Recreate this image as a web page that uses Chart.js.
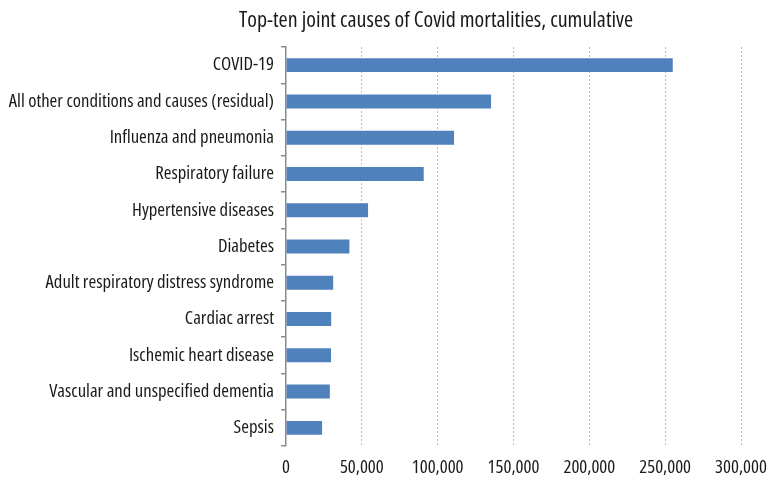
<!DOCTYPE html>
<html>
<head>
<meta charset="utf-8">
<script src="https://cdn.jsdelivr.net/npm/chart.js@4"></script>
<style>
  html, body { margin: 0; padding: 0; background: #fff; }
  canvas { display: block; }
</style>
</head>
<body>
<canvas id="causesChart" width="769" height="479"></canvas>
<script>
// Top-ten joint causes of Covid mortalities (horizontal bar)

const chartTitle = 'Top-ten joint causes of Covid mortalities, cumulative';

const causes = [
    'COVID-19',
    'All other conditions and causes (residual)',
    'Influenza and pneumonia',
    'Respiratory failure',
    'Hypertensive diseases',
    'Diabetes',
    'Adult respiratory distress syndrome',
    'Cardiac arrest',
    'Ischemic heart disease',
    'Vascular and unspecified dementia',
    'Sepsis'
];

const deaths = [255000, 135200, 110800, 90800, 54100, 41800, 31100, 29800, 29700, 28900, 23800];

const xTickValues = [0, 50000, 100000, 150000, 200000, 250000, 300000];

// condensed face of Open Sans (weight slot carries the font-stretch keyword)
const FAMILY = "'Open Sans', 'Roboto Condensed', sans-serif";
const labelFont = { family: FAMILY, size: 18.7, weight: 'condensed' };
const TEXT = '#1a1a1a';

const titlePlugin = {
    id: 'chartTitle',
    afterDraw(chart) {
        const c = chart.ctx;
        c.save();
        c.font = 'condensed 22px ' + FAMILY;
        c.fillStyle = TEXT;
        c.textAlign = 'center';
        c.textBaseline = 'alphabetic';
        c.fillText(chartTitle, 436, 27);
        c.restore();
    }
};

new Chart(document.getElementById('causesChart'), {
    type: 'bar',
    data: {
        labels: causes,
        datasets: [{
            data: deaths,
            backgroundColor: '#4F81BD',
            borderWidth: 0,
            barPercentage: 0.385,
            categoryPercentage: 1
        }]
    },
    options: {
        indexAxis: 'y',
        responsive: false,
        animation: false,
        layout: { padding: { top: 47, left: 8, right: 0, bottom: 0 } },
        plugins: {
            legend: { display: false },
            tooltip: { enabled: false }
        },
        scales: {
            x: {
                min: 0,
                max: 300000,
                afterBuildTicks: scale => { scale.ticks = xTickValues.map(v => ({ value: v })); },
                grid: {
                    color: ctx => ctx.index === 0 ? 'rgba(0,0,0,0)' : '#bdbdbd',
                    tickLength: 0,
                    lineWidth: 1
                },
                border: { display: false, dash: [2, 2] },
                ticks: {
                    color: TEXT,
                    padding: 10,
                    maxRotation: 0,
                    font: labelFont
                },
                afterFit: scale => {
                    scale.height = 33;
                    scale.paddingRight = 28;
                }
            },
            y: {
                grid: {
                    drawOnChartArea: false,
                    tickLength: 5,
                    color: '#8c8c8c',
                    lineWidth: 1.5,
                    offset: true
                },
                border: { display: true, color: '#8c8c8c', width: 1.5 },
                ticks: {
                    color: TEXT,
                    padding: 7,
                    font: labelFont
                },
                afterFit: scale => { scale.width = 278; }
            }
        }
    },
    plugins: [titlePlugin]
});
</script>
</body>
</html>
